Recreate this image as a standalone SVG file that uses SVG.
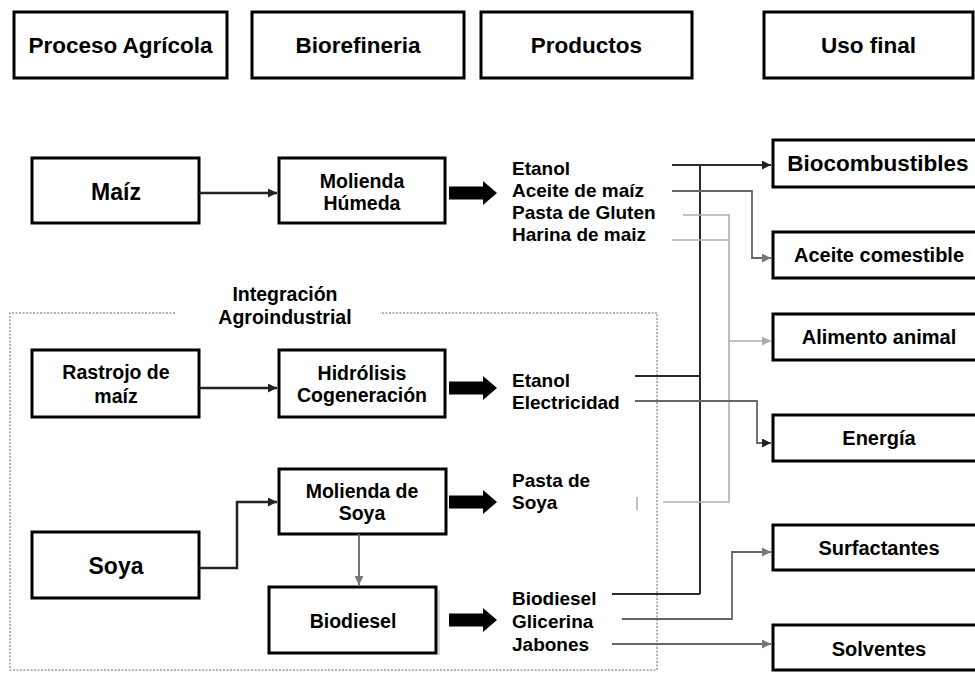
<svg xmlns="http://www.w3.org/2000/svg" width="975" height="675" viewBox="0 0 975 675">
  <style>
    .box { fill: #fff; stroke: #000; stroke-width: 3; }
    .t { font-family: "Liberation Sans", Arial, sans-serif; font-weight: bold; fill: #000; }
    .hd { font-size: 22.5px; text-anchor: middle; }
    .big { font-size: 23px; text-anchor: middle; }
    .mid { font-size: 19.5px; text-anchor: middle; }
    .prod { font-size: 19px; }
    .use { font-size: 20px; text-anchor: middle; }
    .dark { fill: none; stroke: #2a2a2a; stroke-width: 2; }
    .gray { fill: none; stroke: #666; stroke-width: 1.8; }
    .light { fill: none; stroke: #b0b0b0; stroke-width: 1.6; }
    .thin { fill: none; stroke: #222; stroke-width: 2.5; }
    .fat { fill: #000; }
    .zone { fill: none; stroke: #9a9a9a; stroke-width: 1.5; stroke-dasharray: 2 1.5; }
  </style>
  <defs>
    <marker id="ah-dark" viewBox="0 0 10 10" refX="10" refY="5" markerWidth="10" markerHeight="9" markerUnits="userSpaceOnUse" orient="auto">
      <path d="M0,0 L10,5 L0,10 z" fill="#222"/>
    </marker>
    <marker id="ah-gray" viewBox="0 0 10 10" refX="10" refY="5" markerWidth="10" markerHeight="9" markerUnits="userSpaceOnUse" orient="auto">
      <path d="M0,0 L10,5 L0,10 z" fill="#777"/>
    </marker>
    <marker id="ah-light" viewBox="0 0 10 10" refX="10" refY="5" markerWidth="10" markerHeight="9" markerUnits="userSpaceOnUse" orient="auto">
      <path d="M0,0 L10,5 L0,10 z" fill="#aaa"/>
    </marker>
    <!-- wide block arrow from a process to its products -->
    <path id="fat-arrow" d="M0,-6.5 L34,-6.5 L34,-12 L48,0 L34,12 L34,6.5 L0,6.5 z"/>
  </defs>

  <rect width="975" height="675" fill="#fff"/>

  <!-- column headers -->
  <g id="hdr-agricola"><rect class="box" x="14" y="12" width="213" height="66"/><text class="t hd" x="120.5" y="53">Proceso Agrícola</text></g>
  <g id="hdr-biorefineria"><rect class="box" x="252" y="12" width="212" height="66"/><text class="t hd" x="358" y="53">Biorefineria</text></g>
  <g id="hdr-productos"><rect class="box" x="481" y="12" width="211" height="66"/><text class="t hd" x="586.5" y="53">Productos</text></g>
  <g id="hdr-uso"><rect class="box" x="764" y="12" width="209" height="66"/><text class="t hd" x="868.5" y="53">Uso final</text></g>

  <!-- agro-industrial integration zone -->
  <g id="integracion">
    <path class="zone" d="M175,313 L10,313 L10,670 L657,670 L657,313 L380,313"/>
    <text class="t mid" x="285" y="301">Integración</text>
    <text class="t mid" x="285" y="324">Agroindustrial</text>
  </g>

  <!-- raw materials -->
  <g id="maiz"><rect class="box" x="32" y="158" width="167" height="65"/><text class="t big" x="116" y="200">Maíz</text></g>
  <g id="rastrojo"><rect class="box" x="32" y="350" width="167" height="67"/><text class="t mid" x="116" y="379" font-size="20">Rastrojo de</text><text class="t mid" x="116" y="403" font-size="20">maíz</text></g>
  <g id="soya"><rect class="box" x="32" y="532" width="167" height="66"/><text class="t big" x="116" y="574">Soya</text></g>

  <!-- biorefinery processes -->
  <g id="molienda-humeda"><rect class="box" x="279" y="158" width="166" height="65"/><text class="t mid" x="362" y="188">Molienda</text><text class="t mid" x="362" y="210">Húmeda</text></g>
  <g id="hidrolisis"><rect class="box" x="279" y="350" width="166" height="67"/><text class="t mid" x="362" y="380">Hidrólisis</text><text class="t mid" x="362" y="402">Cogeneración</text></g>
  <g id="molienda-soya"><rect class="box" x="279" y="469" width="167" height="65"/><text class="t mid" x="362" y="498">Molienda de</text><text class="t mid" x="362" y="520">Soya</text></g>
  <g id="biodiesel"><rect class="box" x="269" y="587" width="167" height="66"/><line x1="439" y1="590" x2="439" y2="655" stroke="#ccc" stroke-width="1.5"/><text class="t mid" x="353" y="628">Biodiesel</text></g>

  <!-- product lists -->
  <g id="prod-maiz" class="t prod">
    <text x="512" y="175">Etanol</text>
    <text x="512" y="197">Aceite de maíz</text>
    <text x="512" y="219">Pasta de Gluten</text>
    <text x="512" y="241">Harina de maiz</text>
  </g>
  <g id="prod-rastrojo" class="t prod">
    <text x="512" y="387">Etanol</text>
    <text x="512" y="409">Electricidad</text>
  </g>
  <g id="prod-soya" class="t prod">
    <text x="512" y="487">Pasta de</text>
    <text x="512" y="509">Soya</text>
  </g>
  <g id="prod-biodiesel" class="t prod">
    <text x="512" y="605">Biodiesel</text>
    <text x="512" y="628">Glicerina</text>
    <text x="512" y="651">Jabones</text>
  </g>

  <!-- end uses -->
  <g id="biocombustibles"><rect class="box" x="773" y="140" width="215" height="47"/><text class="t" x="878" y="171" font-size="22.5" text-anchor="middle">Biocombustibles</text></g>
  <g id="aceite-comestible"><rect class="box" x="773" y="232" width="215" height="46"/><text class="t use" x="879" y="262">Aceite comestible</text></g>
  <g id="alimento-animal"><rect class="box" x="773" y="314" width="215" height="46"/><text class="t use" x="879" y="344">Alimento animal</text></g>
  <g id="energia"><rect class="box" x="773" y="415" width="215" height="46"/><text class="t use" x="879" y="445">Energía</text></g>
  <g id="surfactantes"><rect class="box" x="773" y="525" width="215" height="45"/><text class="t use" x="879" y="555">Surfactantes</text></g>
  <g id="solventes"><rect class="box" x="773" y="625" width="215" height="45"/><text class="t use" x="879" y="656">Solventes</text></g>

  <!-- connectors -->
  <g id="connectors">
    <!-- feedstock to process -->
    <path class="thin" d="M199,193 L277,193" marker-end="url(#ah-dark)"/>
    <path class="thin" d="M199,388 L277,388" marker-end="url(#ah-dark)"/>
    <path class="thin" d="M199,568 L237,568 L237,502 L277,502" marker-end="url(#ah-dark)"/>
    <path class="gray" stroke-width="2.2" d="M359,534 L359,585" marker-end="url(#ah-gray)"/>

    <!-- process to products -->
    <use href="#fat-arrow" class="fat" x="449" y="193"/>
    <use href="#fat-arrow" class="fat" x="449" y="388"/>
    <use href="#fat-arrow" class="fat" x="449" y="502"/>
    <use href="#fat-arrow" class="fat" x="449" y="620"/>

    <!-- fuel trunk -->
    <path class="dark" d="M672,165 L771,165" marker-end="url(#ah-dark)"/>
    <path class="dark" d="M700,165 L700,594"/>
    <path class="dark" d="M635,376 L700,376"/>
    <path class="dark" d="M612,594 L700,594"/>

    <!-- edible oil -->
    <path class="gray" d="M672,191 L752,191 L752,258 L771,258" marker-end="url(#ah-gray)"/>

    <!-- animal feed -->
    <path class="light" d="M683,215 L729,215 L729,502 L663,502"/>
    <path class="light" d="M672,240 L729,240"/>
    <path class="light" d="M729,341 L771,341" marker-end="url(#ah-light)"/>
    <path class="light" d="M637,497 L637,510"/>

    <!-- energy -->
    <path class="gray" stroke="#555" d="M635,401 L757,401 L757,443 L771,443" marker-end="url(#ah-dark)"/>

    <!-- surfactants and solvents -->
    <path class="gray" stroke="#777" d="M622,619 L732,619 L732,552 L771,552" marker-end="url(#ah-gray)"/>
    <path class="gray" stroke="#888" d="M612,644 L771,644" marker-end="url(#ah-gray)"/>
  </g>
</svg>
